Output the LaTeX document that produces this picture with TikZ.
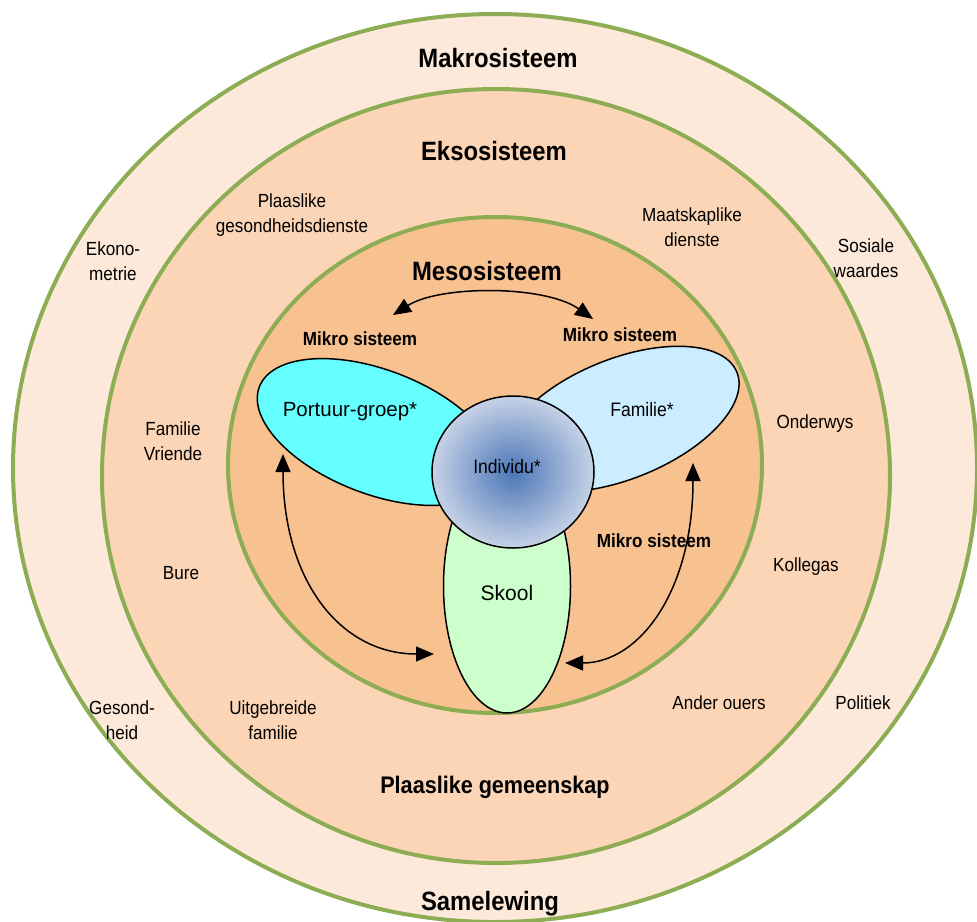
\documentclass[tikz,border=0pt]{standalone}
\usepackage{fontspec}
\setmainfont{Liberation Sans}[FakeStretch=0.9]
\newfontfamily\widefont{Liberation Sans}
\usetikzlibrary{arrows.meta}

\definecolor{ringgreen}{HTML}{8CAD54}
\definecolor{makrofill}{HTML}{FDE9D9}
\definecolor{eksofill}{HTML}{FBD5B5}
\definecolor{mesofill}{HTML}{F8C190}
\definecolor{peerfill}{HTML}{66FFFF}
\definecolor{famfill}{HTML}{CCECFF}
\definecolor{schoolfill}{HTML}{CCFFCC}
\definecolor{indA}{HTML}{4A77B7}
\definecolor{indB}{HTML}{819ECC}
\definecolor{indC}{HTML}{D9E1EE}

\pgfdeclareradialshading{individu}{\pgfpoint{0bp}{0bp}}{%
  color(0bp)=(indA); color(11bp)=(indB); color(29bp)=(indC); color(50bp)=(indC)}

\tikzset{
  ring/.style={draw=ringgreen, line width=4pt},
  lobe/.style={draw=black, line width=1.5pt},
  title/.style={font=\bfseries\fontsize{26.5}{30}\selectfont},
  subtitle/.style={font=\bfseries\fontsize{24}{28}\selectfont},
  mikro/.style={font=\bfseries\fontsize{19}{22}\selectfont},
  lbl/.style={font=\fontsize{19}{24.5}\selectfont, align=center},
  inner/.style={font=\fontsize{19.5}{23}\selectfont},
  link/.style={draw=black, line width=1.5pt,
    {Triangle[length=18pt,width=15pt]}-{Triangle[length=18pt,width=15pt]}},
}

\begin{document}
\begin{tikzpicture}[x=1pt, y=-1pt]
  \useasboundingbox (0,0) rectangle (977,921);
  \clip (0,0) rectangle (977,921);

  % nested system rings
  \filldraw[ring, fill=makrofill] (495,468) ellipse [x radius=482pt, y radius=454pt];
  \filldraw[ring, fill=eksofill]  (496,476) ellipse [x radius=394pt, y radius=387pt];
  \filldraw[ring, fill=mesofill]  (495,465) ellipse [x radius=267pt, y radius=248pt];

  % micro-system lobes
  \filldraw[lobe, fill=peerfill, shift={(377,432)}, rotate=-21]
    (0,0) ellipse [x radius=126pt, y radius=62pt];
  \filldraw[lobe, fill=famfill, shift={(621,419)}, rotate=22]
    (0,0) ellipse [x radius=125pt, y radius=60pt];
  \filldraw[lobe, fill=schoolfill] (507,586) ellipse [x radius=63.5pt, y radius=127pt];

  % the individual at the centre
  \shade[shading=individu] (513,472) ellipse [x radius=81pt, y radius=76pt];
  \draw[lobe] (513,472) ellipse [x radius=81pt, y radius=76pt];

  % ring titles
  \node[title] (makro) at (498,58) {Makrosisteem};
  \node[title] (ekso) at (494,151) {Eksosisteem};
  \node[title] (meso) at (487,271) {Mesosisteem};
  \node[subtitle] (gemeenskap) at (495,787) {Plaaslike gemeenskap};
  \node[title] (samelewing) at (490,904) {Samelewing};

  % macro-system labels
  \node[lbl] (ekonometrie) at (113,261) {Ekono-\\metrie};
  \node[lbl] (sosiaal) at (866,258) {Sosiale\\waardes};
  \node[lbl] (gesondheid) at (122,720) {Gesond-\\heid};
  \node[lbl] (politiek) at (863,703) {Politiek};

  % exo-system labels
  \node[lbl] (gesdienste) at (292,215) {Plaaslike\\gesondheidsdienste};
  \node[lbl] (maatdienste) at (692,227) {Maatskaplike\\dienste};
  \node[lbl] (vriende) at (173,441) {Familie\\Vriende};
  \node[lbl] (onderwys) at (815,424) {Onderwys};
  \node[lbl] (bure) at (181,573) {Bure};
  \node[lbl] (kollegas) at (806,567) {Kollegas};
  \node[lbl] (uitgebreid) at (273,720) {Uitgebreide\\familie};
  \node[lbl] (ouers) at (719,703) {Ander ouers};

  % micro-system labels
  \node[mikro] (mikroA) at (360,339) {Mikro sisteem};
  \node[mikro] (mikroB) at (620,335) {Mikro sisteem};
  \node[mikro] (mikroC) at (654,541) {Mikro sisteem};
  \node[font=\widefont\fontsize{20.5}{24}\selectfont] (portuur) at (350,412) {Portuur-groep*};
  \node[inner] (familie) at (642,410) {Familie*};
  \node[inner] (individu) at (507,467) {Individu*};
  \node[font=\widefont\fontsize{21}{24}\selectfont] (skool) at (507,593) {Skool};

  % interaction arrows between micro-systems
  \coordinate (topL) at (393,315);
  \coordinate (topR) at (593,319);
  \coordinate (peerEnd) at (283,454);
  \coordinate (schoolL) at (434,654);
  \coordinate (famEnd) at (693,463);
  \coordinate (schoolR) at (565,663);
  \draw[link] (topL) .. controls (440,285) and (545,285) .. (topR);
  \draw[link] (peerEnd) .. controls (283,580) and (340,654) .. (schoolL);
  \draw[link] (famEnd) .. controls (693,590) and (640,663) .. (schoolR);
\end{tikzpicture}
\end{document}
